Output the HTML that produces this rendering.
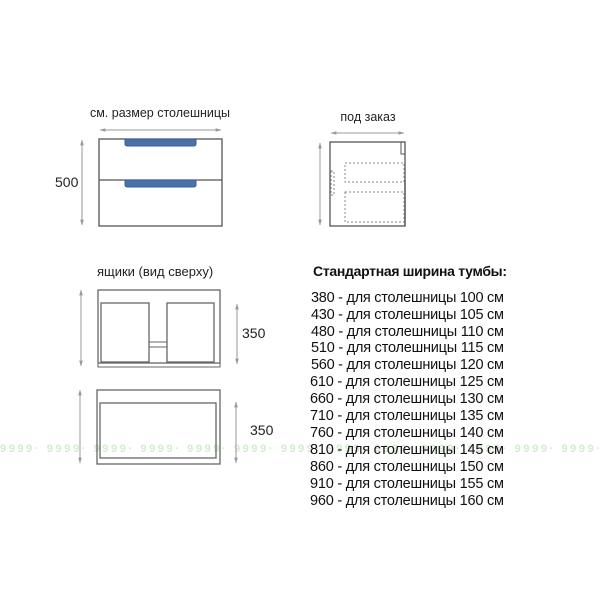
<!DOCTYPE html>
<html><head><meta charset="utf-8"><style>
html,body{margin:0;padding:0;background:#fff;}
svg{display:block;font-family:"Liberation Sans",sans-serif;}
</style></head><body>
<svg width="600" height="600" viewBox="0 0 600 600" xmlns="http://www.w3.org/2000/svg">
<defs>
<marker id="a" viewBox="0 0 10 10" refX="9" refY="5" markerWidth="6" markerHeight="6" orient="auto-start-reverse"><path d="M0,2 L10,5 L0,8 z" fill="#999"/></marker>
</defs>
<text x="0" y="452" fill="#d3ecce" font-size="11" font-weight="bold" textLength="600">9999· 9999· 9999· 9999· 9999· 9999· 9999· 9999· 9999· 9999· 9999· 9999· 9999·</text>
<g stroke="#555" stroke-width="1.3" fill="none">
<rect x="99" y="139" width="123" height="87"/>
<line x1="99" y1="180" x2="222" y2="180"/>
<rect x="330" y="142" width="75" height="84"/>
<rect x="401" y="142" width="4" height="12" stroke-width="1"/>
<line x1="405" y1="180" x2="405" y2="226"/>
</g>
<g fill="#4a72a8" stroke="#3a5f90" stroke-width="1">
<path d="M125,139 H196 V144 Q196,146 193,146 H128 Q125,146 125,144 Z"/>
<path d="M125,180 H196 V185 Q196,187 193,187 H128 Q125,187 125,185 Z"/>
</g>
<g stroke="#888" stroke-width="1" fill="none" stroke-dasharray="2,2">
<rect x="345" y="163" width="59" height="19"/>
<rect x="345" y="192" width="59" height="30"/>
<rect x="331" y="171" width="3" height="24"/>
</g>
<g stroke="#666" stroke-width="1.3" fill="none">
<rect x="98" y="290" width="122" height="73"/>
<rect x="98" y="363" width="122" height="4" stroke-width="1"/>
<rect x="101" y="303" width="48" height="59"/>
<rect x="167" y="303" width="47" height="59"/>
<rect x="149" y="342" width="18" height="5" stroke-width="1"/>
<rect x="97" y="390" width="123" height="74"/>
<rect x="100" y="403" width="116" height="55"/>
</g>
<g stroke="#999" stroke-width="1" marker-start="url(#a)" marker-end="url(#a)">
<line x1="100" y1="130" x2="221" y2="130"/>
<line x1="82" y1="140" x2="82" y2="225"/>
<line x1="331" y1="133" x2="404" y2="133"/>
<line x1="320" y1="143" x2="320" y2="225"/>
<line x1="81" y1="290" x2="81" y2="366"/>
<line x1="237" y1="304" x2="237" y2="364"/>
<line x1="80" y1="390" x2="80" y2="463"/>
<line x1="236" y1="402" x2="236" y2="463"/>
</g>
<g fill="#222" font-size="12.5">
<text x="160" y="117" text-anchor="middle">см. размер столешницы</text>
<text x="368" y="121" text-anchor="middle">под заказ</text>
<text x="55" y="187" font-size="14">500</text>
<text x="97" y="276" font-size="13">ящики (вид сверху)</text>
<text x="242" y="338" font-size="14">350</text>
<text x="250" y="435" font-size="14">350</text>
</g>
<text x="313" y="276" font-size="14" font-weight="bold" fill="#111" textLength="194">Стандартная ширина тумбы:</text>
<g fill="#111" font-size="14.5" xml:space="preserve">
<text x="311" y="302" textLength="193">380 - для  столешницы 100 см</text>
<text x="311" y="319" textLength="193">430 - для  столешницы 105 см</text>
<text x="311" y="336" textLength="193">480 - для  столешницы 110 см</text>
<text x="311" y="352" textLength="193">510 - для  столешницы 115 см</text>
<text x="311" y="369" textLength="193">560 - для  столешницы 120 см</text>
<text x="310" y="386" textLength="194">610 - для  столешницы 125 см</text>
<text x="310" y="403" textLength="194">660 - для  столешницы 130 см</text>
<text x="310" y="420" textLength="194">710 - для  столешницы 135 см</text>
<text x="310" y="437" textLength="194">760 - для  столешницы 140 см</text>
<text x="310" y="454" textLength="194">810 - для  столешницы 145 см</text>
<text x="310" y="471" textLength="194">860 - для  столешницы 150 см</text>
<text x="310" y="488" textLength="194">910 - для  столешницы 155 см</text>
<text x="310" y="505" textLength="194">960 - для  столешницы 160 см</text>
</g>
</svg>
</body></html>
